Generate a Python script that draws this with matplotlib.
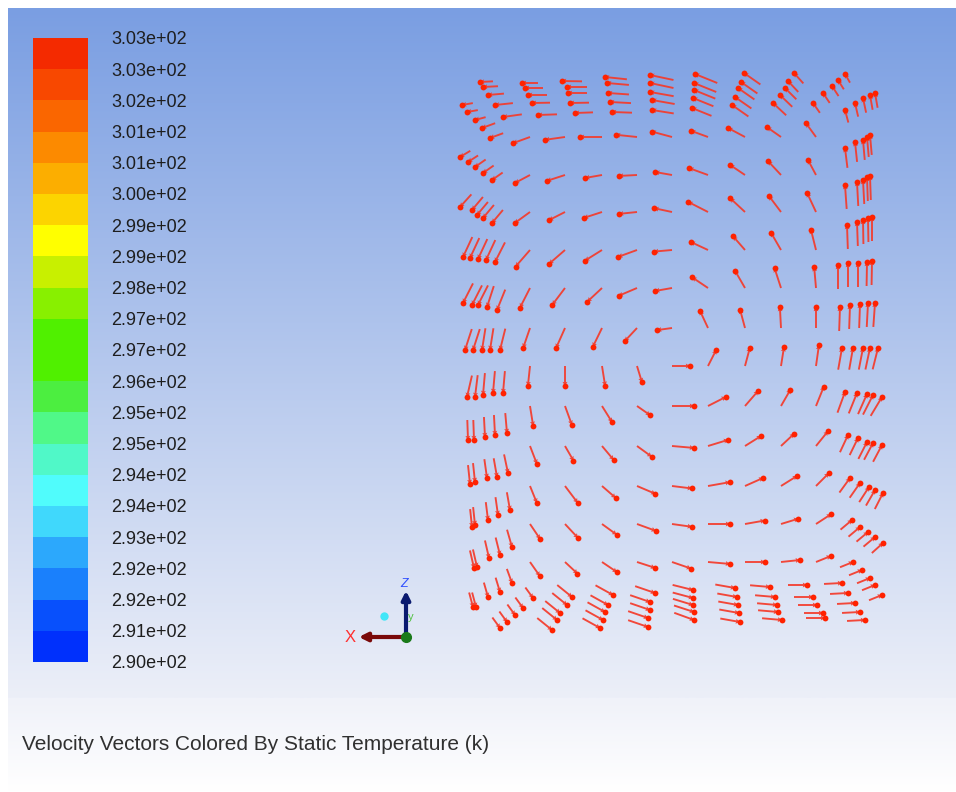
#================================================================================
# Velocity vectors in a square cavity, coloured by static temperature
# (re-drawn Fluent style graphics window)
#================================================================================

import numpy as np
import matplotlib
matplotlib.use("Agg")
import matplotlib.pyplot as plt

#================================================================================
# Colour legend

band_colors = ["#f42a00", "#f84800", "#fa6600", "#fc8a00", "#fcae00", "#fcd400",
               "#ffff00", "#c8f000", "#88f000", "#50f000", "#50f000", "#4cee40",
               "#50f888", "#50f8c8", "#50fcfc", "#40d8fc", "#2ca8fc", "#1a80fc",
               "#0850fc", "#0030fc"]
band_labels = ["3.03e+02", "3.03e+02", "3.02e+02", "3.01e+02", "3.01e+02",
               "3.00e+02", "2.99e+02", "2.99e+02", "2.98e+02", "2.97e+02",
               "2.97e+02", "2.96e+02", "2.95e+02", "2.95e+02", "2.94e+02",
               "2.94e+02", "2.93e+02", "2.92e+02", "2.92e+02", "2.91e+02",
               "2.90e+02"]

#================================================================================
# Vector data (screen pixels, angle in degrees counter clockwise, length px)

# interior cells: tail positions
in_x = [530, 565, 602, 637, 672, 708, 745, 781, 816]
in_y = [137, 175, 212, 250, 288, 328, 366, 406, 446, 486, 524, 562]
in_ang = [[200, 188, 180, 174, 165, 160, 152, 145, 126],
          [208, 198, 190, 183, 170, 160, 146, 133, 118],
          [216, 207, 198, 186, 168, 153, 137, 127, 115],
          [229, 221, 212, 200, 185, 155, 131, 120, 104],
          [243, 233, 223, 203, 190, 146, 120, 108, 95],
          [251, 246, 244, 227, 188, 115, 105, 93, 90],
          [264, 270, 279, 287, 0, 63, 75, 81, 82],
          [279, 290, 302, 325, 0, 27, 49, 60, 68],
          [291, 300, 310, 324, 355, 17, 32, 43, 51],
          [292, 307, 319, 337, 353, 10, 24, 32, 45],
          [304, 313, 324, 340, 352, 0, 10, 17, 33],
          [305, 317, 326, 342, 341, 355, 0, 6, 22]]
in_len = [[18, 20, 22, 21, 21, 18, 19, 17, 17],
          [17, 19, 17, 18, 17, 20, 18, 19, 17],
          [19, 18, 19, 18, 18, 22, 20, 20, 21],
          [22, 21, 20, 20, 18, 19, 18, 20, 21],
          [22, 21, 20, 20, 17, 19, 20, 21, 21],
          [21, 22, 21, 18, 15, 19, 19, 21, 21],
          [20, 20, 20, 17, 18, 18, 19, 19, 21],
          [20, 20, 19, 16, 22, 20, 20, 19, 21],
          [19, 17, 18, 18, 22, 21, 19, 18, 19],
          [18, 21, 18, 20, 20, 22, 20, 19, 18],
          [18, 19, 18, 20, 20, 22, 20, 18, 18],
          [17, 17, 18, 19, 20, 22, 20, 19, 16]]

# wall bands: head positions
top_hx = [[480, 522, 562, 605, 650, 695, 744, 794, 845],
          [483, 525, 567, 607, 650, 694, 741, 788, 838],
          [488, 528, 568, 608, 650, 694, 738, 785, 832],
          [495, 532, 570, 610, 652, 693, 735, 780, 823],
          [503, 538, 575, 612, 652, 692, 732, 773, 813]]
top_hy = [[82, 83, 81, 77, 75, 74, 73, 73, 74],
          [87, 88, 87, 83, 83, 83, 82, 81, 80],
          [95, 95, 93, 93, 92, 90, 88, 88, 86],
          [105, 103, 103, 102, 100, 98, 97, 95, 93],
          [117, 115, 113, 112, 110, 108, 105, 103, 103]]
top_ang = [[183, 180, 179, 174, 168, 158, 145, 132, 120],
           [183, 180, 180, 175, 168, 158, 145, 133, 122],
           [185, 180, 180, 176, 170, 158, 145, 135, 123],
           [186, 181, 181, 177, 170, 158, 145, 136, 124],
           [188, 182, 182, 178, 171, 158, 145, 137, 125]]
top_len = [[13, 16, 20, 22, 24, 24, 20, 14, 10],
           [15, 18, 20, 22, 24, 24, 20, 15, 11],
           [16, 19, 19, 21, 24, 23, 20, 16, 12],
           [18, 18, 19, 21, 23, 22, 20, 17, 12],
           [19, 19, 18, 20, 22, 21, 20, 18, 12]]

left_hx = [[462, 467, 475, 482, 490],
           [460, 468, 475, 483, 492],
           [460, 472, 477, 483, 492],
           [463, 470, 478, 486, 495],
           [463, 472, 478, 487, 497],
           [465, 473, 482, 490, 500],
           [467, 475, 483, 493, 503],
           [468, 474, 485, 495, 507],
           [470, 475, 487, 497, 508],
           [472, 475, 488, 498, 510],
           [474, 477, 489, 500, 512],
           [473, 476, 488, 500, 512]]
left_hy = [[105, 112, 120, 128, 138],
           [157, 162, 167, 173, 180],
           [207, 210, 215, 218, 223],
           [257, 258, 259, 260, 262],
           [303, 305, 305, 307, 310],
           [350, 350, 350, 350, 350],
           [397, 397, 395, 393, 393],
           [440, 440, 437, 435, 433],
           [484, 482, 478, 477, 473],
           [527, 525, 520, 515, 510],
           [568, 567, 558, 555, 547],
           [607, 607, 597, 592, 583]]
left_ang = [[190, 190, 195, 200, 200],
            [211, 213, 215, 215, 215],
            [228, 230, 230, 230, 230],
            [245, 245, 245, 245, 243],
            [243, 243, 243, 252, 248],
            [252, 252, 261, 261, 256],
            [257, 263, 265, 265, 265],
            [272, 272, 273, 273, 275],
            [276, 276, 278, 280, 282],
            [276, 276, 277, 278, 280],
            [283, 283, 283, 284, 286],
            [285, 285, 286, 287, 290]]
left_len = [[11, 11, 11, 14, 14],
            [12, 12, 13, 13, 13],
            [17, 17, 17, 17, 17],
            [22, 22, 22, 22, 22],
            [22, 22, 22, 22, 22],
            [22, 22, 22, 22, 22],
            [22, 22, 22, 22, 22],
            [20, 20, 20, 20, 20],
            [19, 19, 19, 19, 19],
            [18, 18, 18, 18, 18],
            [18, 18, 18, 18, 18],
            [15, 15, 15, 15, 15]]

right_hx = [[845, 855, 863, 870, 875],
            [845, 855, 863, 867, 870],
            [845, 857, 863, 867, 870],
            [847, 857, 863, 868, 872],
            [838, 848, 858, 867, 872],
            [840, 850, 860, 868, 875],
            [842, 853, 863, 870, 878],
            [845, 857, 867, 873, 882],
            [848, 858, 867, 873, 882],
            [850, 860, 869, 875, 883],
            [852, 860, 868, 875, 883],
            [853, 862, 870, 875, 882]]
right_hy = [[110, 103, 98, 95, 93],
            [148, 142, 140, 137, 135],
            [185, 182, 180, 177, 176],
            [225, 222, 220, 218, 217],
            [265, 263, 263, 262, 261],
            [307, 305, 304, 303, 303],
            [348, 348, 348, 348, 348],
            [392, 393, 394, 395, 397],
            [435, 438, 442, 443, 445],
            [478, 483, 487, 490, 493],
            [520, 527, 532, 537, 543],
            [562, 570, 578, 585, 595]]
right_ang = [[105, 103, 102, 100, 100],
             [97, 96, 95, 95, 95],
             [94, 93, 93, 92, 92],
             [92, 92, 91, 91, 90],
             [90, 90, 90, 89, 89],
             [88, 88, 88, 87, 86],
             [80, 80, 79, 78, 76],
             [70, 68, 66, 63, 59],
             [65, 64, 63, 62, 62],
             [54, 55, 57, 60, 63],
             [40, 40, 40, 40, 42],
             [22, 22, 22, 22, 22]]
right_len = [[13, 14, 15, 15, 15],
             [20, 20, 20, 20, 20],
             [24, 24, 24, 24, 24],
             [24, 24, 24, 24, 24],
             [24, 24, 24, 24, 24],
             [24, 24, 24, 24, 24],
             [22, 22, 22, 22, 22],
             [22, 22, 22, 22, 22],
             [19, 19, 19, 19, 19],
             [18, 18, 18, 18, 18],
             [15, 15, 15, 15, 15],
             [14, 14, 14, 14, 14]]

bot_hx = [[533, 572, 613, 655, 693, 735, 770, 807, 842],
          [523, 567, 608, 650, 693, 737, 775, 813, 848],
          [515, 560, 605, 650, 693, 738, 777, 817, 855],
          [507, 557, 603, 648, 694, 739, 778, 823, 860],
          [500, 552, 600, 648, 694, 740, 782, 825, 865]]
bot_hy = [[598, 597, 595, 593, 590, 588, 587, 585, 583],
          [608, 605, 605, 602, 598, 597, 597, 597, 593],
          [615, 613, 612, 610, 605, 605, 605, 605, 603],
          [622, 620, 620, 618, 612, 613, 612, 613, 612],
          [628, 630, 628, 627, 620, 622, 620, 618, 620]]
bot_ang = [[306, 321, 331, 341, 346, 350, 355, 0, 3],
           [306, 321, 331, 341, 345, 350, 355, 0, 3],
           [306, 321, 331, 341, 343, 350, 355, 0, 3],
           [306, 321, 331, 341, 342, 350, 355, 0, 3],
           [306, 321, 331, 341, 340, 350, 355, 0, 3]]
bot_len = [[13, 19, 20, 21, 21, 20, 20, 19, 18],
           [13, 19, 20, 21, 21, 20, 20, 19, 18],
           [13, 19, 20, 21, 21, 20, 20, 19, 18],
           [13, 19, 20, 21, 21, 20, 20, 19, 18],
           [13, 19, 20, 21, 21, 20, 20, 19, 18]]

#================================================================================
# Helpers

W, H = 956, 792
shaft_color = "#f43a2a"
head_color = "#ff2200"


def uv(ang, length):
    # screen y grows downwards, so flip the vertical component
    a = np.radians(np.asarray(ang, float))
    L = np.asarray(length, float)
    return L * np.cos(a), -L * np.sin(a)


def draw_vectors(ax, x, y, ang, length, pivot):
    x = np.asarray(x, float)
    y = np.asarray(y, float)
    u, v = uv(ang, length)
    ax.quiver(x, y, u, v, angles="xy", scale_units="xy", scale=1,
              units="xy", pivot=pivot, color=shaft_color, width=1.9,
              headwidth=2.6, headlength=2.2, headaxislength=2.0,
              alpha=0.92, zorder=5)
    # round blob at the arrow head, like the Fluent raster output
    if pivot == "tail":
        tx, ty = x + u, y + v
    else:
        tx, ty = x, y
    ax.plot(tx.ravel(), ty.ravel(), "o", ms=4.2, color=head_color,
            mec="none", zorder=6)


#================================================================================
# Figure

plt.rcParams["font.family"] = ["Liberation Sans", "DejaVu Sans"]
fig = plt.figure(figsize=(W / 100, H / 100), dpi=100)
ax = fig.add_axes([0, 0, 1, 1])
ax.set_xlim(0, W)
ax.set_ylim(H, 0)
ax.axis("off")

# graphics window background (blue to white)
top_c = np.array([122, 158, 226]) / 255
bot_c = np.array([236, 239, 248]) / 255
t = np.linspace(0, 1, 256)[:, None, None]
ax.imshow(top_c + (bot_c - top_c) * t, extent=[8, W, 698, 8], aspect="auto",
          zorder=0, interpolation="bilinear")
# title panel
t2 = np.linspace(0, 1, 64)[:, None, None]
p_top = np.array([240, 242, 249]) / 255
p_bot = np.array([255, 255, 255]) / 255
ax.imshow(p_top + (p_bot - p_top) * t2, extent=[8, W, H, 698], aspect="auto",
          zorder=0, interpolation="bilinear")

# colour legend
band_h = 624 / len(band_colors)
ax.bar([60.5] * len(band_colors), [band_h] * len(band_colors), width=55,
       bottom=[38 + i * band_h for i in range(len(band_colors))],
       color=band_colors, linewidth=0, zorder=2)
for i, lab in enumerate(band_labels):
    ax.text(111, 40 + i * band_h, lab, fontsize=13, color="#1e1e1e",
            va="center", ha="left", zorder=3)

# vectors
gx, gy = np.meshgrid(in_x, in_y)
draw_vectors(ax, gx, gy, in_ang, in_len, "tail")
draw_vectors(ax, top_hx, top_hy, top_ang, top_len, "tip")
draw_vectors(ax, left_hx, left_hy, left_ang, left_len, "tip")
draw_vectors(ax, right_hx, right_hy, right_ang, right_len, "tip")
draw_vectors(ax, bot_hx, bot_hy, bot_ang, bot_len, "tip")

# axis triad
ax.annotate("", xy=(356, 637), xytext=(406, 637),
            arrowprops=dict(arrowstyle="-|>", color="#7a0a0a", lw=3,
                            mutation_scale=12), zorder=6)
ax.annotate("", xy=(406, 588), xytext=(406, 638),
            arrowprops=dict(arrowstyle="-|>", color="#0a1a70", lw=3,
                            mutation_scale=12), zorder=6)
ax.plot([406], [637], "o", ms=7, color="#1a7a1a", zorder=7)
ax.plot([384], [616], "o", ms=6, color="#40e6f8", mec="none", zorder=7)
ax.text(350, 637, "X", color="#ff3030", fontsize=12, ha="center",
        va="center", zorder=7)
ax.text(404, 584, "Z", color="#3050ff", fontsize=9, ha="center",
        va="center", style="italic", zorder=7)
ax.text(411, 617, "y", color="#50c040", fontsize=8, ha="center",
        va="center", zorder=7)

# title
ax.text(22, 745, "Velocity Vectors Colored By Static Temperature (k)",
        fontsize=15, color="#303030", va="center", ha="left")

fig.savefig("out.png", dpi=100)
